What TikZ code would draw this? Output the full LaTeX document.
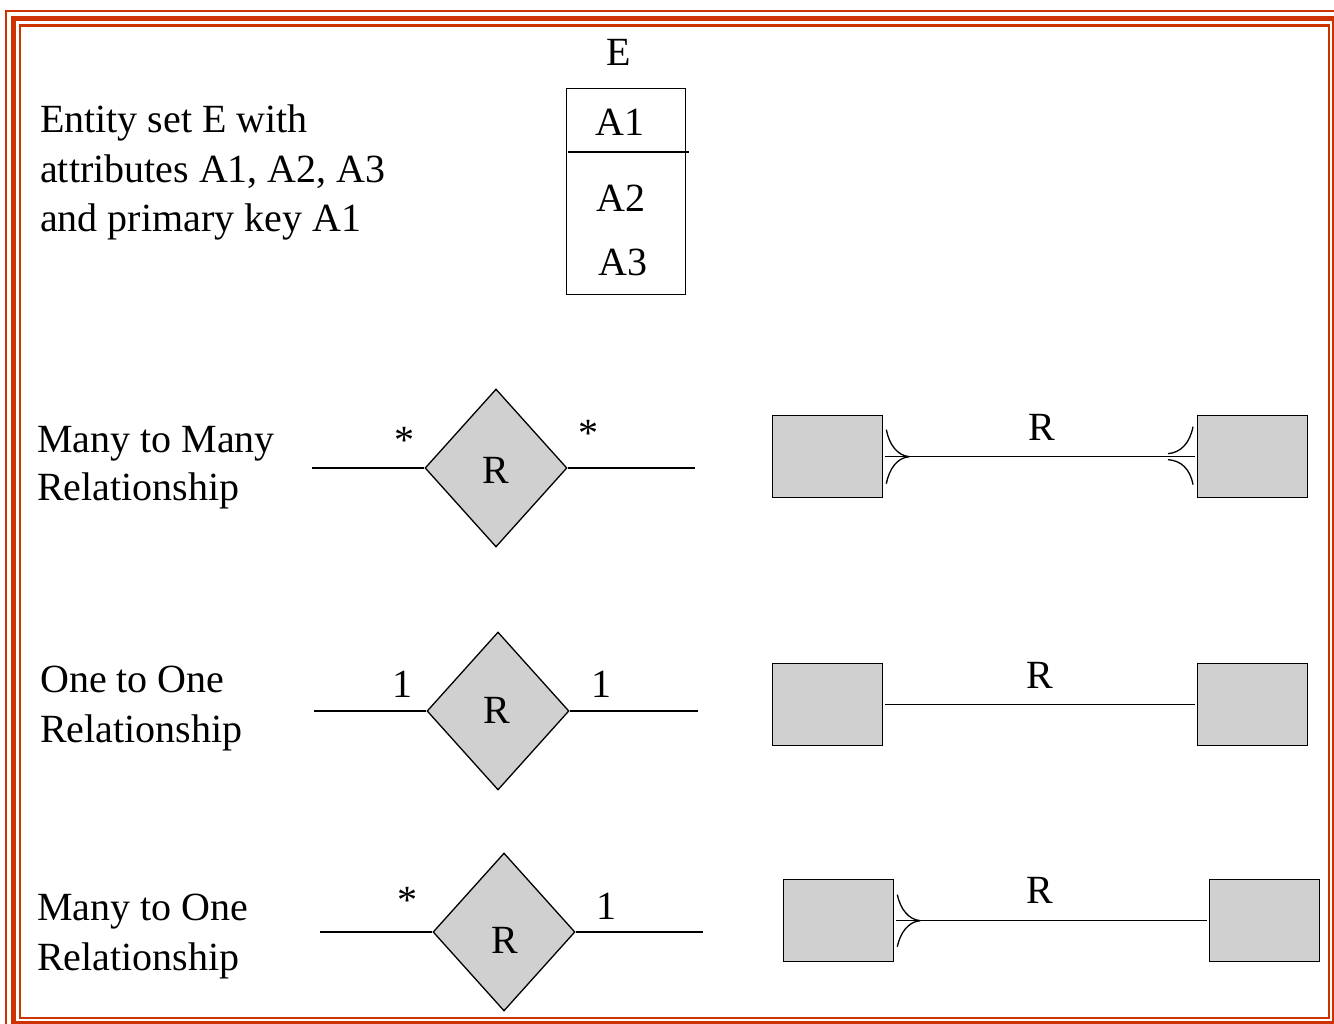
\documentclass[tikz,border=0pt]{standalone}
\usepackage{fontspec}
\setmainfont{Liberation Serif}
\usetikzlibrary{shapes.geometric,calc}
\definecolor{framered}{RGB}{204,51,0}
\definecolor{boxgray}{RGB}{208,208,208}
\begin{document}
\begin{tikzpicture}[x=1pt,y=-1pt,
  txt/.style={font=\fontsize{40}{48}\selectfont, inner sep=0pt, anchor=base west},
  lbl/.style={font=\fontsize{40}{48}\selectfont, inner sep=0pt},
  ent/.style={draw=black, line width=1.3pt, fill=boxgray, minimum width=110pt, minimum height=82pt, inner sep=0pt, anchor=north west},
  rel/.style={diamond, draw=black, line width=1.3pt, fill=boxgray, minimum width=142pt, minimum height=158pt, inner sep=0pt},
  conn/.style={line width=1.3pt},
  foot/.style={line width=1.3pt},
]
\useasboundingbox (0,0) rectangle (1334,1024);
\clip (0,0) rectangle (1334,1024);
% frame
\draw[framered, line width=2pt] (6,11) rectangle (1345,1035);
\draw[framered, line width=5pt] (13.5,18.5) rectangle (1334.5,1023.5);
\draw[framered, line width=2.5pt] (20,25.5) rectangle (1329,1018);

% entity set description
\node[txt] (t1) at (40,133) {Entity set E with};
\node[txt] (t2) at (40,183) {attributes A1, A2, A3};
\node[txt] (t3) at (40,232) {and primary key A1};

\node[lbl] (ename) at (619,52) {E};
\node[draw=black, line width=1.3pt, minimum width=119pt, minimum height=206pt, inner sep=0pt, anchor=north west] (ebox) at (566,88) {};
\draw[conn] ($(ebox.north west)+(2,64)$) -- ($(ebox.north east)+(3,64)$);
\node[lbl] (a1t) at (620,122) {A1};
\node[lbl] (a2t) at (621,198) {A2};
\node[lbl] (a3t) at (623,262) {A3};

% row 1: many to many
\node[txt] (m1a) at (37,452) {Many to Many};
\node[txt] (m1b) at (37,500) {Relationship};
\node[rel] (d1) at (496,468) {};
\node[lbl] (d1r) at (496,470) {R};
\coordinate (d1l) at (312,468);
\coordinate (d1e) at (695,468);
\draw[conn] (d1l) -- (d1);
\draw[conn] (d1) -- (d1e);
\node[lbl] (s1a) at (404,440) {*};
\node[lbl] (s1b) at (588,433) {*};

\node[ent] (x1) at (772,415) {};
\node[ent] (y1) at (1197,415) {};
\draw[conn, shorten <=2pt, shorten >=2pt] (x1) -- (y1);
\node[lbl] (r1) at (1042,427) {R};
\draw[foot] ($(x1.east)+(3,-27)$) .. controls ($(x1.east)+(6,-12)$) and ($(x1.east)+(14,-1)$) .. ($(x1.east)+(26,0)$);
\draw[foot] ($(x1.east)+(3,27)$) .. controls ($(x1.east)+(6,12)$) and ($(x1.east)+(14,1)$) .. ($(x1.east)+(26,0)$);
\draw[foot] ($(y1.west)+(-4,-30)$) .. controls ($(y1.west)+(-7,-14)$) and ($(y1.west)+(-16,-4)$) .. ($(y1.west)+(-29,-3)$);
\draw[foot] ($(y1.west)+(-4,28)$) .. controls ($(y1.west)+(-7,12)$) and ($(y1.west)+(-16,4)$) .. ($(y1.west)+(-29,3)$);

% row 2: one to one
\node[txt] (m2a) at (40,692) {One to One};
\node[txt] (m2b) at (40,742) {Relationship};
\node[rel] (d2) at (498,711) {};
\node[lbl] (d2r) at (497,710) {R};
\coordinate (d2l) at (314,711);
\coordinate (d2e) at (698,711);
\draw[conn] (d2l) -- (d2);
\draw[conn] (d2) -- (d2e);
\node[lbl] (o2a) at (402,684) {1};
\node[lbl] (o2b) at (601,684) {1};

\node[ent] (x2) at (772,663) {};
\node[ent] (y2) at (1197,663) {};
\draw[conn, shorten <=2pt, shorten >=2pt] (x2) -- (y2);
\node[lbl] (r2) at (1040,675) {R};

% row 3: many to one
\node[txt] (m3a) at (37,920) {Many to One};
\node[txt] (m3b) at (37,970) {Relationship};
\node[rel] (d3) at (504,932) {};
\node[lbl] (d3r) at (505,940) {R};
\coordinate (d3l) at (320,932);
\coordinate (d3e) at (703,932);
\draw[conn] (d3l) -- (d3);
\draw[conn] (d3) -- (d3e);
\node[lbl] (s3a) at (407,900) {*};
\node[lbl] (o3b) at (606,906) {1};

\node[ent] (x3) at (783,879) {};
\node[ent] (y3) at (1209,879) {};
\draw[conn, shorten <=2pt, shorten >=2pt] (x3) -- (y3);
\node[lbl] (r3) at (1040,890) {R};
\draw[foot] ($(x3.east)+(3,-26)$) .. controls ($(x3.east)+(6,-12)$) and ($(x3.east)+(14,-1)$) .. ($(x3.east)+(26,0)$);
\draw[foot] ($(x3.east)+(3,26)$) .. controls ($(x3.east)+(6,12)$) and ($(x3.east)+(14,1)$) .. ($(x3.east)+(26,0)$);
\end{tikzpicture}
\end{document}
